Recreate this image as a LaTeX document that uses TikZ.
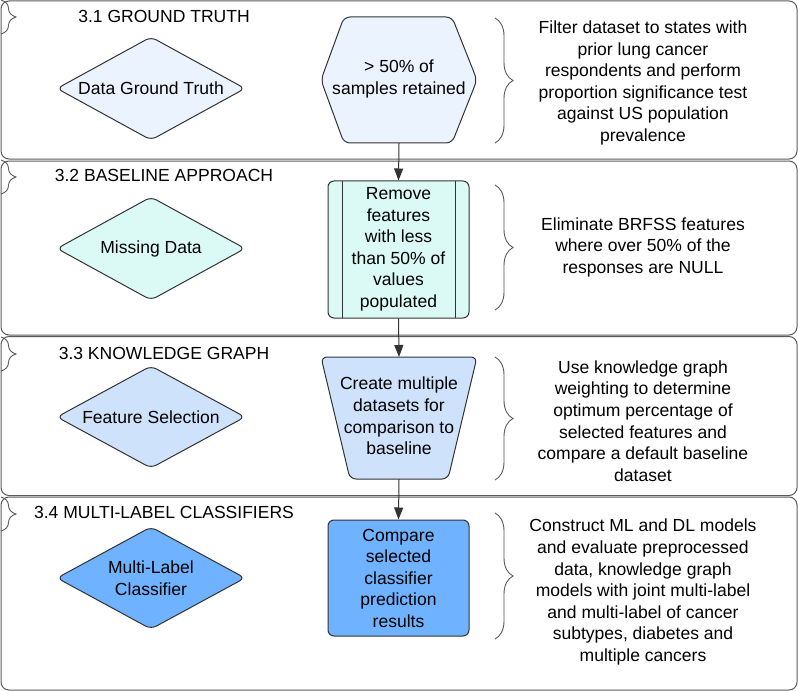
\documentclass[tikz,border=0pt]{standalone}
\usepackage{fontspec}
\setmainfont{Liberation Sans}
\usetikzlibrary{arrows.meta,decorations.pathreplacing}
\definecolor{laneline}{HTML}{5A5A5A}
\definecolor{shapeline}{HTML}{333333}
\definecolor{fillA}{HTML}{EAF3FE}
\definecolor{fillB}{HTML}{DBFAF5}
\definecolor{fillC}{HTML}{CFE2FB}
\definecolor{fillD}{HTML}{6FB2FF}
\tikzset{
  lanebox/.style={draw=laneline, line width=1bp, rounded corners=8bp},
  shapebox/.style={draw=shapeline, line width=1bp, rounded corners=6bp},
  txt/.style={font=\fontsize{17.6}{21.6}\selectfont, align=center, inner sep=0pt, text=black},
  lanetitle/.style={font=\fontsize{17.6}{21.6}\selectfont, inner sep=0pt, text=black},
  lbrace/.style={draw=laneline, line width=0.9bp, decorate, decoration={brace, amplitude=15bp}},
  rbrace/.style={draw=laneline, line width=0.9bp, decorate, decoration={brace, amplitude=18bp}},
  arr/.style={draw=shapeline, line width=1bp, -{Triangle[width=9bp,length=12bp]}},
}
\begin{document}
\begin{tikzpicture}[x=1bp,y=-1bp]
\useasboundingbox (0,0) rectangle (798,691);
% lanes
\draw[lanebox] (1,1) rectangle (797,159);
\draw[lanebox] (1,161) rectangle (797,335);
\draw[lanebox] (1,336.5) rectangle (797,495.5);
\draw[lanebox] (1,497) rectangle (797,690);
% left braces
\draw[lbrace] (1,0) -- (1,34);
\draw[lbrace] (1,160) -- (1,194);
\draw[lbrace] (1,337) -- (1,371);
\draw[lbrace] (1,497) -- (1,531);
% titles
\node[lanetitle] (t1) at (164,16) {3.1 GROUND TRUTH};
\node[lanetitle] (t2) at (164,175) {3.2 BASELINE APPROACH};
\node[lanetitle] (t3) at (164,353) {3.3 KNOWLEDGE GRAPH};
\node[lanetitle] (t4) at (164,512) {3.4 MULTI-LABEL CLASSIFIERS};
% diamonds
\draw[shapebox, fill=fillA] (57,88.5) -- (151,37) -- (245,88.5) -- (151,140) -- cycle;
\node[txt] (d1) at (151,88.5) {Data Ground Truth};
\draw[shapebox, fill=fillB] (57,248.5) -- (151,197) -- (245,248.5) -- (151,300) -- cycle;
\node[txt] (d2) at (151,248.5) {Missing Data};
\draw[shapebox, fill=fillC] (57,417) -- (151,366) -- (245,417) -- (151,468) -- cycle;
\node[txt] (d3) at (151,417) {Feature Selection};
\draw[shapebox, fill=fillD] (57,578) -- (151,527) -- (245,578) -- (151,629) -- cycle;
\node[txt] (d4) at (151,578) {Multi-Label\\Classifier};
% hexagon
\draw[shapebox, fill=fillA] (321,80) -- (344,17) -- (452,17) -- (477,80) -- (452,143) -- (344,143) -- cycle;
\node[txt] (hex) at (399,79) {> 50\% of\\samples retained};
\coordinate (hexbot) at (399,143);
% process box
\node[shapebox, fill=fillB, minimum width=141bp, minimum height=137bp, inner sep=0pt] (proc) at (398.5,249.5) {};
\draw[draw=shapeline, line width=1bp] (342,181) -- (342,318) (455,181) -- (455,318);
\node[txt] at (proc.center) {Remove\\features\\with less\\than 50\% of\\values\\populated};
% trapezoid
\draw[shapebox, fill=fillC] (321,357) -- (477,357) -- (448,479) -- (350,479) -- cycle;
\node[txt] (trap) at (399,416) {Create multiple\\datasets for\\comparison to\\baseline};
\coordinate (traptop) at (399,357);
\coordinate (trapbot) at (399,479);
% final rect
\node[shapebox, fill=fillD, minimum width=141bp, minimum height=116bp, inner sep=0pt] (cmp) at (398.5,578) {};
\node[txt] at (cmp.center) {Compare\\selected\\classifier\\prediction\\results};
% arrows
\draw[arr] (hexbot) -- (proc.north);
\draw[arr] (proc.south) -- (traptop);
\draw[arr] (trapbot) -- (cmp.north);
% right braces
\draw[rbrace] (495,18) -- (495,143);
\draw[rbrace] (495,185) -- (495,310);
\draw[rbrace] (495,357) -- (495,480);
\draw[rbrace] (495,513) -- (495,639);
% right texts
\node[txt] (r1) at (643,83) {Filter dataset to states with\\prior lung cancer\\respondents and perform\\proportion significance test\\against US population\\prevalence};
\node[txt] (r2) at (643,247) {Eliminate BRFSS features\\where over 50\% of the\\responses are NULL};
\node[txt] (r3) at (643,421) {Use knowledge graph\\weighting to determine\\optimum percentage of\\selected features and\\compare a default baseline\\dataset};
\node[txt] (r4) at (643,592) {Construct ML and DL models\\and evaluate preprocessed\\data, knowledge graph\\models with joint multi-label\\and multi-label of cancer\\subtypes, diabetes and\\multiple cancers};
\end{tikzpicture}
\end{document}
